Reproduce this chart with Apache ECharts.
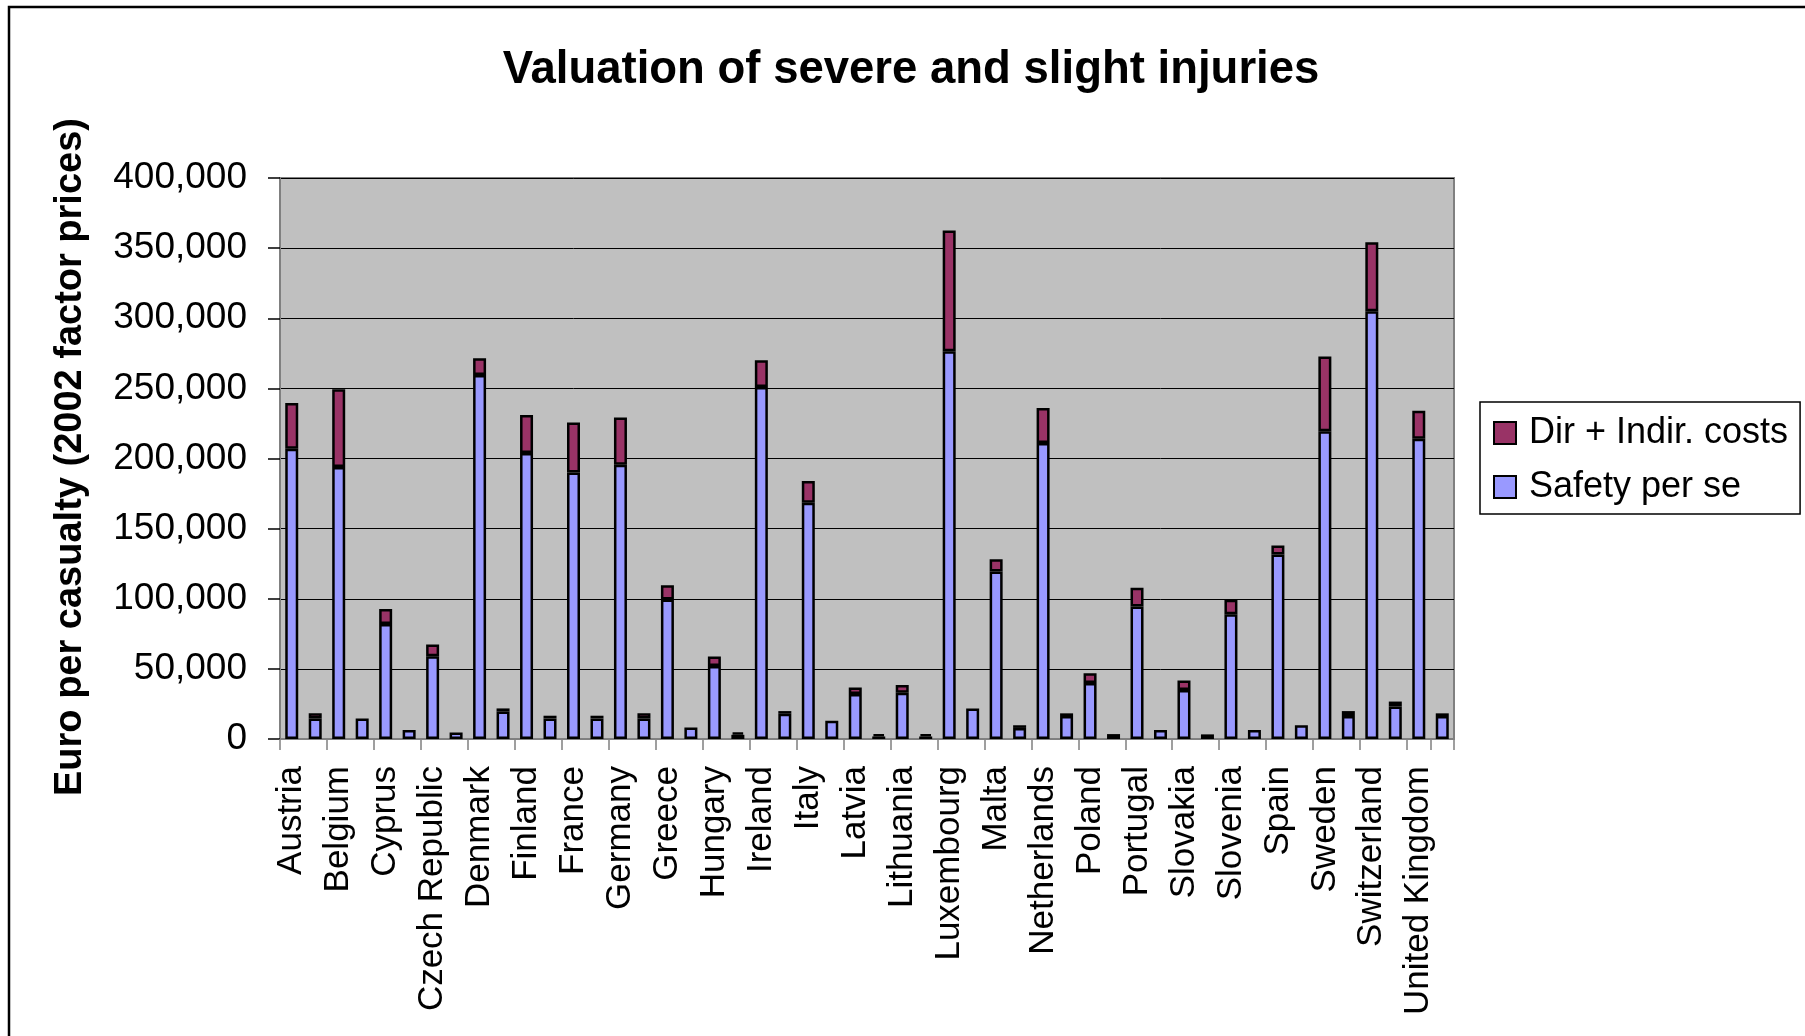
<!DOCTYPE html>
<html>
<head>
<meta charset="utf-8">
<title>Valuation of severe and slight injuries</title>
<script src="https://cdn.jsdelivr.net/npm/echarts@6/dist/echarts.min.js"></script>
<style>
  html, body { margin: 0; padding: 0; background: #ffffff; }
  #chart { width: 1805px; height: 1036px; }
</style>
</head>
<body>
<div id="chart"></div>
<script>
// Countries; each has a severe-injury bar followed by a slight-injury bar
const countries = [
  'Austria', 'Belgium', 'Cyprus', 'Czech Republic', 'Denmark', 'Finland', 'France',
  'Germany', 'Greece', 'Hungary', 'Ireland', 'Italy', 'Latvia', 'Lithuania',
  'Luxembourg', 'Malta', 'Netherlands', 'Poland', 'Portugal', 'Slovakia', 'Slovenia',
  'Spain', 'Sweden', 'Switzerland', 'United Kingdom'
];

// Euro per casualty, 2002 factor prices — severe injuries
const severeSafety = [
  207000, 194000, 82000, 59000, 259500, 204000, 190000, 195500, 99500, 52000,
  251000, 168500, 32000, 33000, 276500, 119500, 211000, 40000, 94500, 35000,
  89000, 131500, 219500, 305000, 214000
];
const severeDirIndir = [
  32500, 55300, 10700, 8400, 11900, 27100, 35600, 33700, 10200, 6900,
  19100, 15400, 4800, 5500, 86100, 8700, 25000, 6900, 13300, 6700,
  10300, 6500, 53300, 49100, 20100
];

// Euro per casualty, 2002 factor prices — slight injuries
const slightSafety = [
  14700, 14700, 6500, 4600, 19600, 14700, 14700, 14700, 8200, 3000,
  18000, 13100, 1800, 1800, 21800, 7900, 16400, 3500, 6500, 3300,
  6500, 9800, 16400, 23200, 16400
];
const slightDirIndir = [
  3600, 0, 0, 0, 2200, 1900, 1900, 3600, 0, 1700,
  1900, 0, 1700, 1700, 0, 1900, 1900, 0, 0, 0,
  0, 0, 3500, 3500, 1900
];

// Value axis
const yMin = 0;
const yMax = 400000;
const yStep = 50000;

// Build the 50 bar slots: severe then slight for every country
const slots = [];
const safetyData = [];
const dirData = [];
countries.forEach((c, i) => {
  slots.push(c + '|severe', c + '|slight');
  safetyData.push(severeSafety[i], slightSafety[i]);
  dirData.push(severeDirIndir[i] || null, slightDirIndir[i] || null);
});

const FONT = '"Liberation Sans", Arial, Helvetica, sans-serif';

const chart = echarts.init(document.getElementById('chart'), null, { renderer: 'canvas' });

chart.setOption({
  backgroundColor: '#ffffff',
  animation: false,
  textStyle: { fontFamily: FONT },
  grid: {
    left: 280, top: 178, width: 1174, height: 561,
    show: true, backgroundColor: '#C0C0C0',
    borderColor: '#808080', borderWidth: 2
  },
  legend: {
    orient: 'vertical',
    left: 1480, top: 402,
    data: ['Dir + Indir. costs', 'Safety per se'],
    backgroundColor: '#ffffff',
    borderColor: '#000000', borderWidth: 1.5, borderRadius: 0,
    padding: [13, 12, 9, 13],
    itemWidth: 22, itemHeight: 22, itemGap: 18,
    icon: 'rect',
    textStyle: { fontFamily: FONT, fontSize: 36, color: '#000', padding: [0, 0, 0, 8] }
  },
  xAxis: {
    type: 'category',
    data: slots,
    boundaryGap: true,
    axisLine: { show: true, lineStyle: { color: '#808080', width: 2 } },
    axisTick: { show: true, interval: 1, length: 11, lineStyle: { color: '#808080', width: 1.5 } },
    axisLabel: {
      interval: 0, rotate: 90, margin: 27,
      fontFamily: FONT, fontSize: 35, color: '#000',
      formatter: v => v.endsWith('|severe') ? v.split('|')[0] : ''
    },
    splitLine: { show: false }
  },
  yAxis: {
    type: 'value',
    min: yMin, max: yMax, interval: yStep,
    axisLine: { show: true, lineStyle: { color: '#808080', width: 2 } },
    axisTick: { show: true, length: 12, lineStyle: { color: '#000', width: 1.5 } },
    axisLabel: {
      margin: 33, fontFamily: FONT, fontSize: 37, color: '#000',
      padding: [6, 0, 0, 0],
      formatter: v => v.toLocaleString('en-US')
    },
    splitLine: { show: true, lineStyle: { color: '#000', width: 1 } }
  },
  series: [
    {
      name: 'Safety per se', type: 'bar', stack: 'total', barWidth: 13,
      data: safetyData,
      itemStyle: { color: '#9999FF', borderColor: '#000', borderWidth: 2.5 }
    },
    {
      name: 'Dir + Indir. costs', type: 'bar', stack: 'total', barWidth: 13,
      data: dirData,
      itemStyle: { color: '#993366', borderColor: '#000', borderWidth: 2.5 }
    }
  ],
  graphic: [
    {
      type: 'rect', silent: true, z: 100,
      shape: { x: 9, y: 7, width: 2000, height: 2000 },
      style: { fill: 'none', stroke: '#000', lineWidth: 2.5 }
    },
    {
      type: 'text', silent: true,
      x: 911, y: 70,
      style: {
        text: 'Valuation of severe and slight injuries',
        font: 'bold 45.5px ' + FONT, fill: '#000',
        align: 'center', verticalAlign: 'middle'
      }
    },
    {
      type: 'text', silent: true,
      x: 71, y: 457, rotation: Math.PI / 2,
      style: {
        text: 'Euro per casualty (2002 factor prices)',
        font: 'bold 38px ' + FONT, fill: '#000',
        align: 'center', verticalAlign: 'middle'
      }
    }
  ]
});
</script>
</body>
</html>
